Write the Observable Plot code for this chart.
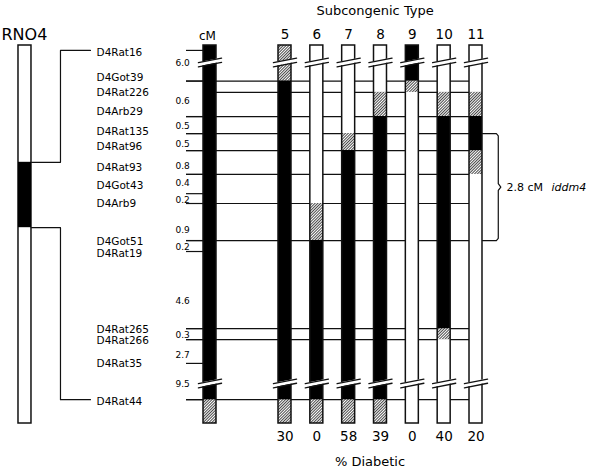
<!DOCTYPE html>
<html><head><meta charset="utf-8">
<script src="https://cdn.jsdelivr.net/npm/d3@7"></script>
<script src="https://cdn.jsdelivr.net/npm/@observablehq/plot@0.6"></script>
<style>body{margin:0;background:#fff}svg{display:block}</style>
</head><body><div id="chart"></div>
<script>
// ---------------- data ----------------
const types = ["5", "6", "7", "8", "9", "10", "11"];
const pctDiabetic = [30, 0, 58, 39, 0, 40, 20];
const markers = ["D4Rat16","D4Got39","D4Rat226","D4Arb29","D4Rat135","D4Rat96","D4Rat93","D4Got43","D4Arb9","D4Got51","D4Rat19","D4Rat265","D4Rat266","D4Rat35","D4Rat44"];
// drawn map position of each marker (track units: 0 = top of the strain bars, 100 = bottom)
const markerPos = [1.3, 9.4, 12.4, 18.8, 23.3, 27.8, 34.1, 39.2, 41.8, 51.6, 54.5, 74.9, 77.8, 84.1, 93.7];
// intervals labelled with their genetic distance (cM)
const cmValues = ["6.0","0.6","0.5","0.5","0.8","0.4","0.2","0.9","0.2","4.6","0.3","2.7","9.5"];
const cmFrom = ["D4Rat16","D4Rat226","D4Arb29","D4Rat135","D4Rat96","D4Rat93","D4Got43","D4Arb9","D4Got51","D4Rat19","D4Rat265","D4Rat266","D4Rat35"];
const cmTo   = ["D4Got39","D4Arb29","D4Rat135","D4Rat96","D4Rat93","D4Got43","D4Arb9","D4Got51","D4Rat19","D4Rat265","D4Rat266","D4Rat35","D4Rat44"];
// markers with a tick on the cM scale / markers whose line crosses all strains
const tickMarkers = ["D4Rat16","D4Got39","D4Arb29","D4Rat135","D4Rat96","D4Rat93","D4Got43","D4Arb9","D4Got51","D4Rat19","D4Rat265","D4Rat266","D4Rat35","D4Rat44"];
const lineMarkers = ["D4Got39","D4Rat226","D4Arb29","D4Rat135","D4Rat96","D4Rat93","D4Arb9","D4Got51","D4Rat265","D4Rat266","D4Rat44"];
// genotype segments: state@marker where the state starts (B = donor, H = undetermined, W = recipient)
const genoRef = ["B@top", "H@D4Rat44"];
const geno5  = ["H@top", "B@D4Got39", "H@D4Rat44"];
const geno6  = ["W@top", "H@D4Arb9", "B@D4Got51", "H@D4Rat44"];
const geno7  = ["W@top", "H@D4Rat135", "B@D4Rat96", "H@D4Rat44"];
const geno8  = ["W@top", "H@D4Rat226", "B@D4Arb29", "H@D4Rat44"];
const geno9  = ["B@top", "H@D4Got39", "W@D4Rat226"];
const geno10 = ["W@top", "H@D4Rat226", "B@D4Arb29", "H@D4Rat265", "W@D4Rat266"];
const geno11 = ["W@top", "H@D4Rat226", "B@D4Arb29", "H@D4Rat96", "W@D4Rat93"];
const iddm4From = "D4Rat135", iddm4To = "D4Got51";
const iddm4Dist = "2.8 cM", iddm4Name = "iddm4";
const rnoBand = [30.9, 48.2]; // black congenic band on the RNO4 ideogram (track units)
const scaleBreaks = [4.5, 89.4]; // where the strain bars are broken

// ---------------- layout ----------------
const X = {rno: -3.168, brk: -2.053, brkEnd: -1.111, label: -0.92, cmText: 1.56, tickStart: 1.906,
           ref: 2.644, lineEnd: 11.205, brace: 11.70, braceText: 11.96, iddmText: 13.37, title: 7.83, rnoText: -3.906};
const HW = 0.204;          // half bar width (x units)
const labelPos = [1.8, 8.4, 12.4, 17.4, 22.7, 26.7, 32.4, 37.1, 41.7, 52.0, 55.0, 75.1, 78.0, 84.1, 94.2];
const cmLabelPos = [4.7, 14.7, 21.2, 26.0, 31.9, 36.4, 40.8, 48.9, 53.4, 67.5, 76.5, 81.8, 89.7];
const font = "DejaVu Sans, sans-serif";

const pos = Object.fromEntries(markers.map((m, i) => [m, markerPos[i]]));
pos.top = 0; pos.bottom = 100;

const genos = [geno5, geno6, geno7, geno8, geno9, geno10, geno11];
const lanes = [{lane: X.ref, geno: genoRef}, ...types.map((t, i) => ({lane: +t, geno: genos[i]}))];
const segments = lanes.flatMap(({lane, geno}) => geno.map((g, i) => {
  const [state, from] = g.split("@");
  const to = i + 1 < geno.length ? geno[i + 1].split("@")[1] : "bottom";
  return {lane, state, y1: pos[from], y2: pos[to]};
}));

const lines = lineMarkers.map(m => ({y: pos[m], x1: tickMarkers.includes(m) ? X.tickStart : X.ref + HW, x2: X.lineEnd}));
const ticks = tickMarkers.map(m => ({y: pos[m]}));

// break marks
const ext = 0.16, slope = 0.6, gap = 0.55;
const breakArea = [], breakLines = [];
lanes.forEach(({lane}, li) => scaleBreaks.forEach((b, bi) => {
  const L = lane - HW - ext, R = lane + HW + ext;
  const id = li + "-" + bi;
  breakArea.push({id, x: L, ya: b - gap + slope, yb: b + gap + slope}, {id, x: R, ya: b - gap - slope, yb: b + gap - slope});
  breakLines.push({id: id + "a", x: L, y: b - gap + slope}, {id: id + "a", x: R, y: b - gap - slope},
                  {id: id + "b", x: L, y: b + gap + slope}, {id: id + "b", x: R, y: b + gap - slope});
}));

// chromosome bracket lines
const rnoR = X.rno + HW;
const bracket = [
  {id: "t", x: rnoR, y: rnoBand[0]}, {id: "t", x: X.brk, y: rnoBand[0]}, {id: "t", x: X.brk, y: pos.D4Rat16}, {id: "t", x: X.brkEnd, y: pos.D4Rat16},
  {id: "b", x: rnoR, y: rnoBand[1]}, {id: "b", x: X.brk, y: rnoBand[1]}, {id: "b", x: X.brk, y: pos.D4Rat44}, {id: "b", x: X.brkEnd, y: pos.D4Rat44}
];
const bt = pos[iddm4From], bb = pos[iddm4To], bm = (bt + bb) / 2;
const brace = [
  {x: X.lineEnd, y: bt}, {x: X.brace - 0.06, y: bt}, {x: X.brace, y: bt + 0.6}, {x: X.brace, y: bm - 0.9},
  {x: X.brace + 0.08, y: bm}, {x: X.brace, y: bm + 0.9}, {x: X.brace, y: bb - 0.6}, {x: X.brace - 0.06, y: bb}, {x: X.lineEnd, y: bb}
];

const laneRect = {x1: d => d.lane - HW, x2: d => d.lane + HW};

const plot = Plot.plot({
  width: 600, height: 470, margin: 0,
  x: {domain: [5, 11], range: [284.5, 475.5], axis: null},
  y: {domain: [0, 100], range: [45, 423], axis: null},
  style: {background: "white", fontFamily: font},
  marks: [
    Plot.ruleY(lines, {y: "y", x1: "x1", x2: "x2", stroke: "#111", strokeWidth: 1.2}),
    Plot.ruleY(ticks, {y: "y", x1: () => X.tickStart, x2: () => X.ref, stroke: "#111", strokeWidth: 1.2}),
    Plot.line(brace, {x: "x", y: "y", stroke: "#111", strokeWidth: 1.2}),
    Plot.rect(segments.filter(d => d.state === "W"), {...laneRect, y1: "y1", y2: "y2", fill: "white"}),
    Plot.rect(segments.filter(d => d.state === "H"), {...laneRect, y1: "y1", y2: "y2", fill: "url(#hatch)"}),
    Plot.rect(segments.filter(d => d.state === "B"), {...laneRect, y1: "y1", y2: "y2", fill: "black"}),
    Plot.rect(lanes, {...laneRect, y1: () => 0, y2: () => 100, fill: "none", stroke: "#111", strokeWidth: 1.5}),
    Plot.area(breakArea, {x1: "x", y1: "ya", y2: "yb", z: "id", fill: "white"}),
    Plot.line(breakLines, {x: "x", y: "y", z: "id", stroke: "#111", strokeWidth: 1.3}),
    // RNO4 ideogram
    Plot.rect([0], {x1: () => X.rno - HW, x2: () => X.rno + HW, y1: () => 0, y2: () => 100, fill: "white", stroke: "#111", strokeWidth: 1.5}),
    Plot.rect([rnoBand], {x1: () => X.rno - HW, x2: () => X.rno + HW, y1: d => d[0], y2: d => d[1], fill: "black"}),
    Plot.line(bracket, {x: "x", y: "y", z: "id", stroke: "#111", strokeWidth: 1.2}),
    // texts
    Plot.text(markers, {x: () => X.label, y: (d, i) => labelPos[i], text: d => d, textAnchor: "start", fontSize: 10.5, fill: "black"}),
    Plot.text(cmValues, {x: () => X.cmText, y: (d, i) => cmLabelPos[i], text: d => d, textAnchor: "start", fontSize: 9, fill: "black"}),
    Plot.text(types, {x: d => +d, y: () => -2.75, text: d => d, fontSize: 13.5, fill: "black"}),
    Plot.text(pctDiabetic, {x: (d, i) => +types[i], y: () => 103.6, text: d => String(d), fontSize: 13.5, fill: "black"}),
    Plot.text(["Subcongenic Type"], {x: () => X.title, y: () => -9.2, text: d => d, fontSize: 13, fill: "black"}),
    Plot.text(["% Diabetic"], {x: () => 7.67, y: () => 110.2, text: d => d, fontSize: 13, fill: "black"}),
    Plot.text(["RNO4"], {x: () => X.rnoText, y: () => -2.8, text: d => d, textAnchor: "start", fontSize: 16, fill: "black"}),
    Plot.text(["cM"], {x: () => X.ref - 0.08, y: () => -2.6, text: d => d, fontSize: 12, fill: "black"}),
    Plot.text([iddm4Dist], {x: () => X.braceText, y: () => bm, text: d => d, textAnchor: "start", fontSize: 11, fill: "black"}),
    Plot.text([iddm4Name], {x: () => X.iddmText, y: () => bm, text: d => d, textAnchor: "start", fontSize: 11, fontStyle: "italic", fill: "black"})
  ]
});

const defs = d3.select(plot).insert("defs", ":first-child");
const pat = defs.append("pattern").attr("id", "hatch").attr("patternUnits", "userSpaceOnUse")
  .attr("width", 2).attr("height", 2).attr("patternTransform", "rotate(45)");
pat.append("rect").attr("width", 2).attr("height", 2).attr("fill", "#fff");
pat.append("rect").attr("x", 0).attr("y", 0).attr("width", 0.9).attr("height", 2).attr("fill", "#333");
document.getElementById("chart").appendChild(plot);
</script>
</body></html>
